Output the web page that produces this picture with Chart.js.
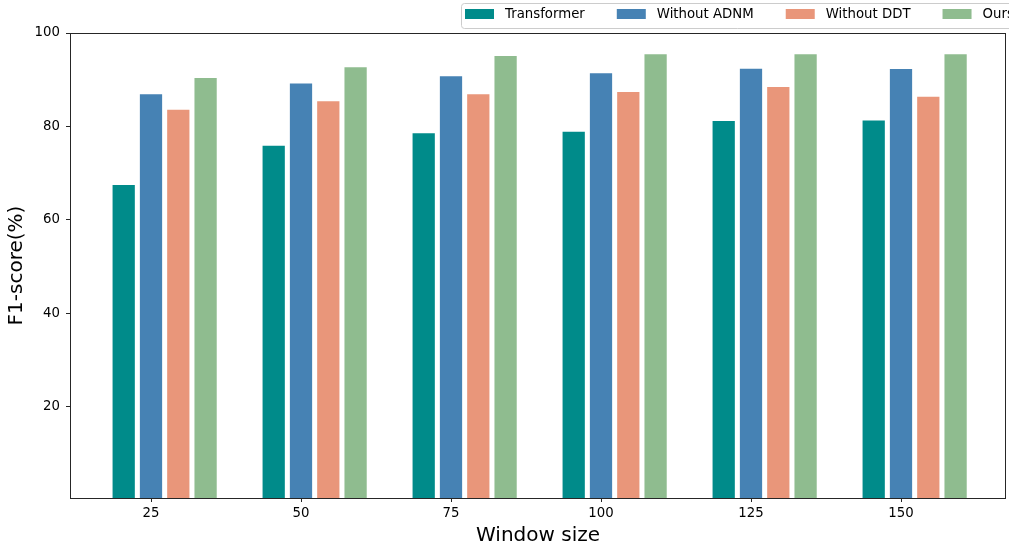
<!DOCTYPE html>
<html>
<head>
<meta charset="utf-8">
<script src="https://cdn.jsdelivr.net/npm/chart.js@4/dist/chart.umd.min.js"></script>
<style>
  html, body { margin: 0; padding: 0; background: #ffffff; }
  #wrap { width: 1009px; height: 546px; }
</style>
</head>
<body>
<div id="wrap"><canvas id="barChart" width="1009" height="546"></canvas></div>
<script>
// window sizes on the x axis
let categories = ['25', '50', '75', '100', '125', '150'];
let yTicks = [20, 40, 60, 80, 100];

// F1-score (%) per model variant
let transformer = [67.4, 75.8, 78.5, 78.8, 81.1, 81.2];
let withoutAdnm = [86.8, 89.1, 90.7, 91.3, 92.3, 92.2];
let withoutDdt = [83.5, 85.3, 86.8, 87.3, 88.4, 86.3];
let ours = [90.3, 92.6, 95.0, 95.4, 95.4, 95.4];

let seriesNames = ['Transformer', 'Without ADNM', 'Without DDT', 'Ours'];
let seriesColors = ['#008B8A', '#4682B4', '#E9967A', '#8FBC8F'];
let seriesValues = [transformer, withoutAdnm, withoutDdt, ours];

// bar offsets inside a group, in category units (tick sits on 2nd bar)
let barStep = 0.182;
let barOffsets = [-barStep, 0, barStep, 2 * barStep];

const fontFamily = "'DejaVu Sans', sans-serif";

function buildDatasets() {
    return seriesValues.map((values, s) => ({
        label: seriesNames[s],
        data: values.map((v, i) => ({x: i + barOffsets[s], y: v})),
        backgroundColor: seriesColors[s],
        borderWidth: 0,
        barThickness: 21.6,
        grouped: false
    }));
}

// box around the plot + legend drawn above the axes (clipped at right edge)
const framePlugin = {
    id: 'frame',
    afterDraw(chart) {
        const ctx = chart.ctx;
        const a = chart.chartArea;
        ctx.save();
        ctx.strokeStyle = '#262626';
        ctx.lineWidth = 1;
        ctx.strokeRect(Math.round(a.left) + 0.5, Math.round(a.top) + 0.5,
                Math.round(a.right - a.left) - 1, Math.round(a.bottom - a.top));

        // legend
        ctx.font = '13.3px ' + fontFamily;
        const boxX = 461, boxY = 3, boxH = 25;
        let x = boxX + 4;
        const items = [];
        seriesNames.forEach(name => {
            items.push({x: x, name: name});
            x += 29 + 11 + ctx.measureText(name).width + 32;
        });
        ctx.strokeStyle = '#cccccc';
        ctx.lineWidth = 1;
        ctx.beginPath();
        ctx.roundRect(boxX + 0.5, boxY + 0.5, x - boxX, boxH, 3);
        ctx.stroke();
        ctx.textBaseline = 'middle';
        ctx.textAlign = 'left';
        items.forEach((it, s) => {
            ctx.fillStyle = seriesColors[s];
            ctx.fillRect(it.x, boxY + 6, 29, 10);
            ctx.fillStyle = '#000000';
            ctx.fillText(it.name, it.x + 40, boxY + 12);
        });
        ctx.restore();
    }
};

let myChart = new Chart(
        document.getElementById('barChart'),
        {
            type: 'bar',
            data: {
                datasets: buildDatasets()
            },
            plugins: [framePlugin],
            options: {
                responsive: false,
                animation: false,
                layout: {
                    padding: {top: 33, right: 3, left: 0, bottom: 0}
                },
                plugins: {
                    legend: {display: false},
                    tooltip: {enabled: false}
                },
                scales: {
                    x: {
                        type: 'linear',
                        offset: false,
                        min: -0.54,
                        max: 5.70,
                        afterBuildTicks: scale => {
                            scale.ticks = categories.map((c, i) => ({value: i}));
                        },
                        afterFit: scale => {
                            scale.height = 48;
                        },
                        grid: {
                            offset: false,
                            drawOnChartArea: false,
                            drawTicks: true,
                            tickLength: 4,
                            color: '#262626'
                        },
                        border: {display: false},
                        ticks: {
                            padding: 4,
                            color: '#000000',
                            maxRotation: 0,
                            font: {family: fontFamily, size: 13.3},
                            callback: value => categories[value]
                        },
                        title: {
                            display: true,
                            text: 'Window size',
                            color: '#000000',
                            padding: {top: 0, bottom: 0},
                            font: {family: fontFamily, size: 20, lineHeight: 1}
                        }
                    },
                    y: {
                        min: 0.5,
                        max: 100,
                        afterBuildTicks: scale => {
                            scale.ticks = yTicks.map(v => ({value: v}));
                        },
                        afterFit: scale => {
                            scale.width = 70;
                        },
                        grid: {
                            drawOnChartArea: false,
                            drawTicks: true,
                            tickLength: 4,
                            color: '#262626'
                        },
                        border: {display: false},
                        ticks: {
                            padding: 6,
                            color: '#000000',
                            font: {family: fontFamily, size: 13.3}
                        },
                        title: {
                            display: true,
                            text: 'F1-score(%)',
                            color: '#000000',
                            padding: {top: 7, bottom: 0},
                            font: {family: fontFamily, size: 20, lineHeight: 1}
                        }
                    }
                }
            }
        }
);
</script>
</body>
</html>
